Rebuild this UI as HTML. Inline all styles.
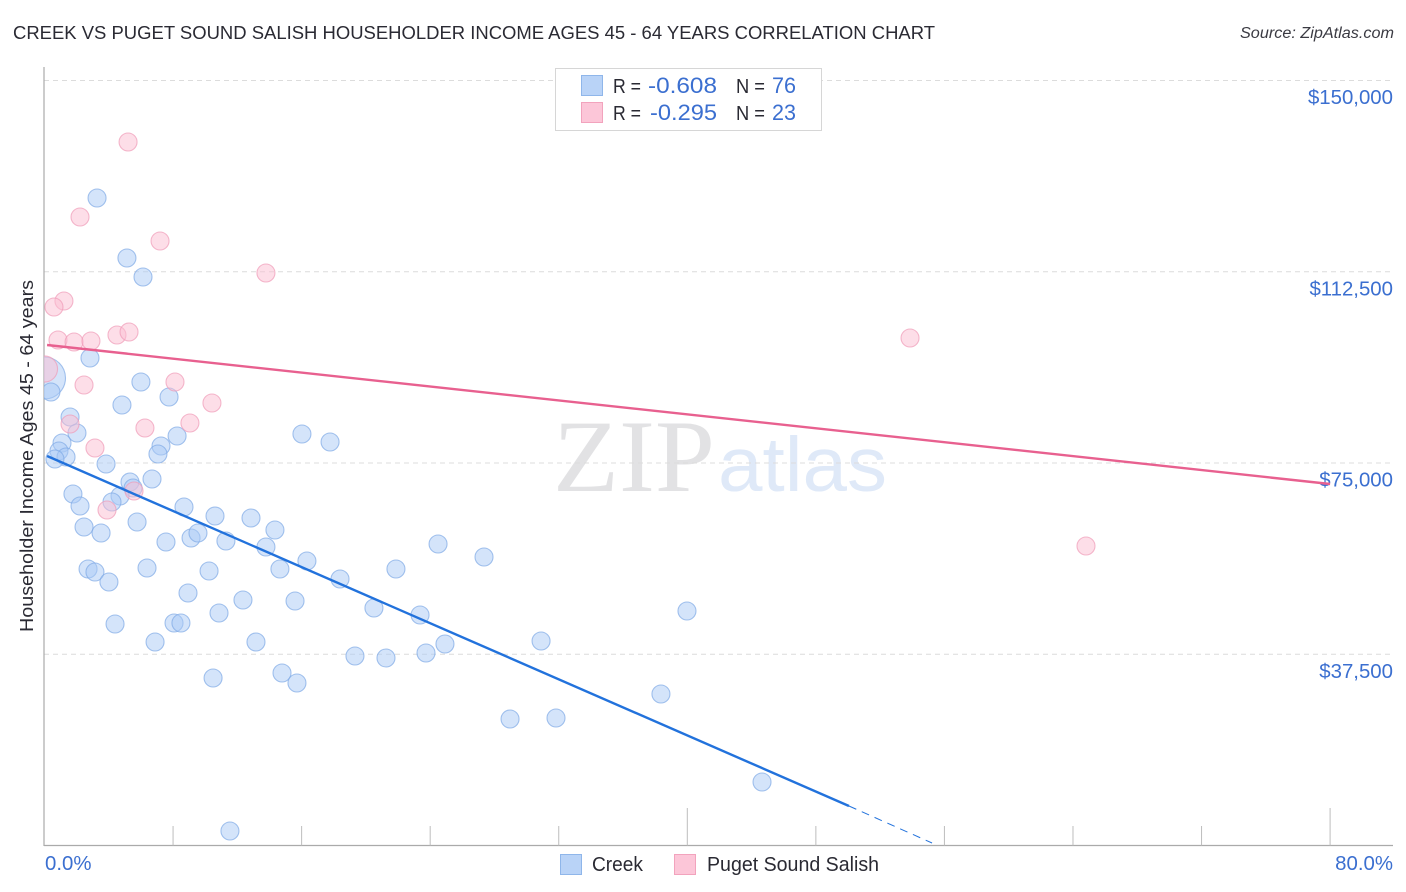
<!DOCTYPE html>
<html lang="en">
<head>
<meta charset="utf-8">
<title>Creek vs Puget Sound Salish Householder Income Correlation Chart</title>
<style>
html,body{margin:0;padding:0;background:#fff;}
svg{display:block;font-family:"Liberation Sans",sans-serif;}
</style>
</head>
<body>
<svg id="chart" width="1406" height="892" viewBox="0 0 1406 892" xmlns="http://www.w3.org/2000/svg">
  <defs><clipPath id="plot-clip"><rect x="44" y="60" width="1350" height="786"/></clipPath></defs>
  <rect x="0" y="0" width="1406" height="892" fill="#fff"/>
  <text x="13" y="39" font-size="18.5" fill="#2a2a33" textLength="922" lengthAdjust="spacingAndGlyphs">CREEK VS PUGET SOUND SALISH HOUSEHOLDER INCOME AGES 45 - 64 YEARS CORRELATION CHART</text>
  <text x="1394" y="38" font-size="15.5" font-style="italic" fill="#3a3a42" text-anchor="end" textLength="154" lengthAdjust="spacingAndGlyphs">Source: ZipAtlas.com</text>
  <g>
    <text x="553" y="491" font-family="'Liberation Serif',serif" font-size="103" fill="#e2e2e4" textLength="162" lengthAdjust="spacingAndGlyphs">ZIP</text>
    <text x="718" y="491" font-size="77" fill="#dfe9f8" textLength="169" lengthAdjust="spacingAndGlyphs">atlas</text>
  </g>
  <g id="grid"></g>
  <g id="axes"></g>
  <g id="points" clip-path="url(#plot-clip)"></g>
  <g id="trends"></g>
  <g>
    <rect x="555.5" y="68.5" width="266" height="62" fill="#fff" stroke="#d6d6d6" stroke-width="1"/>
    <rect x="581.5" y="75.5" width="21" height="20" fill="#b9d3f7" stroke="#8fb6ea" stroke-width="1"/>
    <rect x="581.5" y="102.5" width="21" height="20" fill="#fcc6d8" stroke="#f2a3bd" stroke-width="1"/>
    <text x="613" y="93" font-size="20" fill="#2a2a33" textLength="28" lengthAdjust="spacingAndGlyphs">R =</text>
    <text x="648" y="93" font-size="22" fill="#3b6fd0" textLength="69" lengthAdjust="spacingAndGlyphs">-0.608</text>
    <text x="736" y="93" font-size="20" fill="#2a2a33" textLength="29" lengthAdjust="spacingAndGlyphs">N =</text>
    <text x="772" y="93" font-size="22" fill="#3b6fd0" textLength="24" lengthAdjust="spacingAndGlyphs">76</text>
    <text x="613" y="120" font-size="20" fill="#2a2a33" textLength="28" lengthAdjust="spacingAndGlyphs">R =</text>
    <text x="650" y="120" font-size="22" fill="#3b6fd0" textLength="67" lengthAdjust="spacingAndGlyphs">-0.295</text>
    <text x="736" y="120" font-size="20" fill="#2a2a33" textLength="29" lengthAdjust="spacingAndGlyphs">N =</text>
    <text x="772" y="120" font-size="22" fill="#3b6fd0" textLength="24" lengthAdjust="spacingAndGlyphs">23</text>
  </g>
  <g>
    <rect x="560.5" y="854.5" width="21" height="20" fill="#b9d3f7" stroke="#8fb6ea" stroke-width="1"/>
    <text x="592" y="871" font-size="20" fill="#2a2a33" textLength="51" lengthAdjust="spacingAndGlyphs">Creek</text>
    <rect x="674.5" y="854.5" width="21" height="20" fill="#fcc6d8" stroke="#f2a3bd" stroke-width="1"/>
    <text x="707" y="871" font-size="20" fill="#2a2a33" textLength="172" lengthAdjust="spacingAndGlyphs">Puget Sound Salish</text>
  </g>
  <text transform="translate(33,456) rotate(-90)" font-size="18.5" fill="#2a2a33" text-anchor="middle" textLength="352" lengthAdjust="spacingAndGlyphs">Householder Income Ages 45 - 64 years</text>
</svg>
<script>
const creekPct = [3.27,5.13,6.13,2.83,6.00,0.40,4.82,7.75,1.59,2.02,8.25,7.25,7.06,1.09,0.90,1.34,0.65,3.83,16.02,17.77,6.69,5.32,5.51,4.70,4.20,1.77,2.21,2.46,3.52,5.76,8.68,10.61,12.85,14.34,7.56,9.12,9.55,11.29,13.78,16.33,2.71,3.14,4.01,6.38,10.24,14.65,18.39,21.87,24.49,27.35,8.93,12.35,15.59,10.86,20.50,23.37,39.98,4.39,8.06,8.49,6.88,13.16,19.32,21.25,23.74,24.92,30.90,10.49,14.78,15.71,38.36,28.97,31.83,44.65,11.54];
const creekIncome = [126960,115197,111470,95590,90883,88922,86373,87942,84020,80883,80295,78334,76765,78922,77354,76177,75785,74805,80687,79118,71863,71275,70098,68530,67353,68922,66569,62451,61275,63432,66373,64608,64216,61863,59510,60294,61275,59706,58530,55785,54216,53628,51667,54412,53824,54216,52255,54216,59118,56569,49510,48138,47942,45589,46569,45196,45981,43432,43628,43628,39902,39902,37157,36765,37745,39510,40098,32843,33824,31863,29706,24804,25000,12451,2843];
const creekLargePct = [0];
const creekLargeIncome = [91667];
const creekLargeWeight = [5.44];
const pugetPct = [5.20,2.21,7.19,13.78,1.21,0.59,0.84,1.84,2.89,4.51,5.26,2.46,8.12,10.42,9.05,6.25,1.59,3.14,5.57,3.89,53.86,64.81];
const pugetIncome = [137941,123236,118530,112255,106765,105589,99118,98726,98922,100098,100687,90295,90883,86765,82843,81863,82647,77942,69510,65785,99510,58726];
const pugetLargePct = [0];
const pugetLargeIncome = [93432];
const pugetLargeWeight = [2.1];
const creekTrendPct = [0.16,50.06];
const creekTrendIncome = [76373,7745];
const creekForecastPct = [50.06,55.23];
const creekForecastIncome = [7745,490];
const pugetTrendPct = [0.16,80];
const pugetTrendIncome = [98138,70883];
const yTickValues = [150000,112500,75000,37500];
const yTickLabels = ["$150,000","$112,500","$75,000","$37,500"];
const xTickValues = [8,16,24,32,40,48,56,64,72,80];
const xMajorTicks = [40,80];
const xEndValues = [0,80];
const xEndLabels = ["0.0%","80.0%"];

const NS = 'http://www.w3.org/2000/svg';
const xScale = v => 44.5 + v * 16.07;
const yScale = v => 845.5 - v * 0.0051;
const BASE_R = 9;

function make(tag, attrs, parent) {
  const el = document.createElementNS(NS, tag);
  for (const k in attrs) el.setAttribute(k, attrs[k]);
  parent.appendChild(el);
  return el;
}
const grid = document.getElementById('grid');
const axes = document.getElementById('axes');
const points = document.getElementById('points');
const trends = document.getElementById('trends');

yTickValues.forEach((v, i) => {
  const line = make('line', {x1: 44, x2: 1393, y1: yScale(v), y2: yScale(v), stroke: '#dcdcdc', 'stroke-width': 1, 'stroke-dasharray': '5 4'}, grid);
  
  
  const label = make('text', {x: 1393, y: yScale(v) + 23.5, 'font-size': 20.4, fill: '#3b6fd0', 'text-anchor': 'end'}, axes);
  label.textContent = yTickLabels[i];
  
  
});

const yAxis = make('line', {x1: 44, x2: 44, y1: 67, y2: 846, stroke: '#aaaaaa', 'stroke-width': 1.2}, axes);


const xAxis = make('line', {x1: 44, x2: 1393, y1: 845.5, y2: 845.5, stroke: '#aaaaaa', 'stroke-width': 1.2}, axes);



xTickValues.forEach(v => {
  const top = xMajorTicks.includes(v) ? 808 : 826;
  const t = make('line', {x1: xScale(v), x2: xScale(v), y1: top, y2: 845.5, stroke: '#bdbdbd', 'stroke-width': 1}, axes);
  
  
});
xEndValues.forEach((v, i) => {
  const lab = make('text', {x: i === 0 ? xScale(v) + 0.5 : 1393, y: 870, 'font-size': 20.4, fill: '#3b6fd0', 'text-anchor': i === 0 ? 'start' : 'end'}, axes);
  lab.textContent = xEndLabels[i];
  
  
});

function drawCreekPoint(pct, income, weight) {
  const c = make('circle', {cx: xScale(pct), cy: yScale(income), r: BASE_R * Math.sqrt(weight), fill: '#a9c9f5', 'fill-opacity': 0.5, stroke: '#7fa9e6', 'stroke-opacity': 0.7, 'stroke-width': 1.1}, points);
  
  
}
function drawPugetPoint(pct, income, weight) {
  const c = make('circle', {cx: xScale(pct), cy: yScale(income), r: BASE_R * Math.sqrt(weight), fill: '#fbbdd2', 'fill-opacity': 0.5, stroke: '#f09bb8', 'stroke-opacity': 0.7, 'stroke-width': 1.1}, points);
  
  
}
creekLargePct.forEach((p, i) => drawCreekPoint(p, creekLargeIncome[i], creekLargeWeight[i]));
creekPct.forEach((p, i) => drawCreekPoint(p, creekIncome[i], 1));
pugetLargePct.forEach((p, i) => drawPugetPoint(p, pugetLargeIncome[i], pugetLargeWeight[i]));
pugetPct.forEach((p, i) => drawPugetPoint(p, pugetIncome[i], 1));

const creekTrend = make('line', {x1: xScale(creekTrendPct[0]), y1: yScale(creekTrendIncome[0]), x2: xScale(creekTrendPct[1]), y2: yScale(creekTrendIncome[1]), stroke: '#2272dc', 'stroke-width': 2.4}, trends);


const creekForecast = make('line', {x1: xScale(creekForecastPct[0]), y1: yScale(creekForecastIncome[0]), x2: xScale(creekForecastPct[1]), y2: yScale(creekForecastIncome[1]), stroke: '#2272dc', 'stroke-width': 1, 'stroke-dasharray': '8 6'}, trends);


const pugetTrend = make('line', {x1: xScale(pugetTrendPct[0]), y1: yScale(pugetTrendIncome[0]), x2: xScale(pugetTrendPct[1]), y2: yScale(pugetTrendIncome[1]), stroke: '#e8608f', 'stroke-width': 2.4}, trends);


</script>
</body>
</html>
